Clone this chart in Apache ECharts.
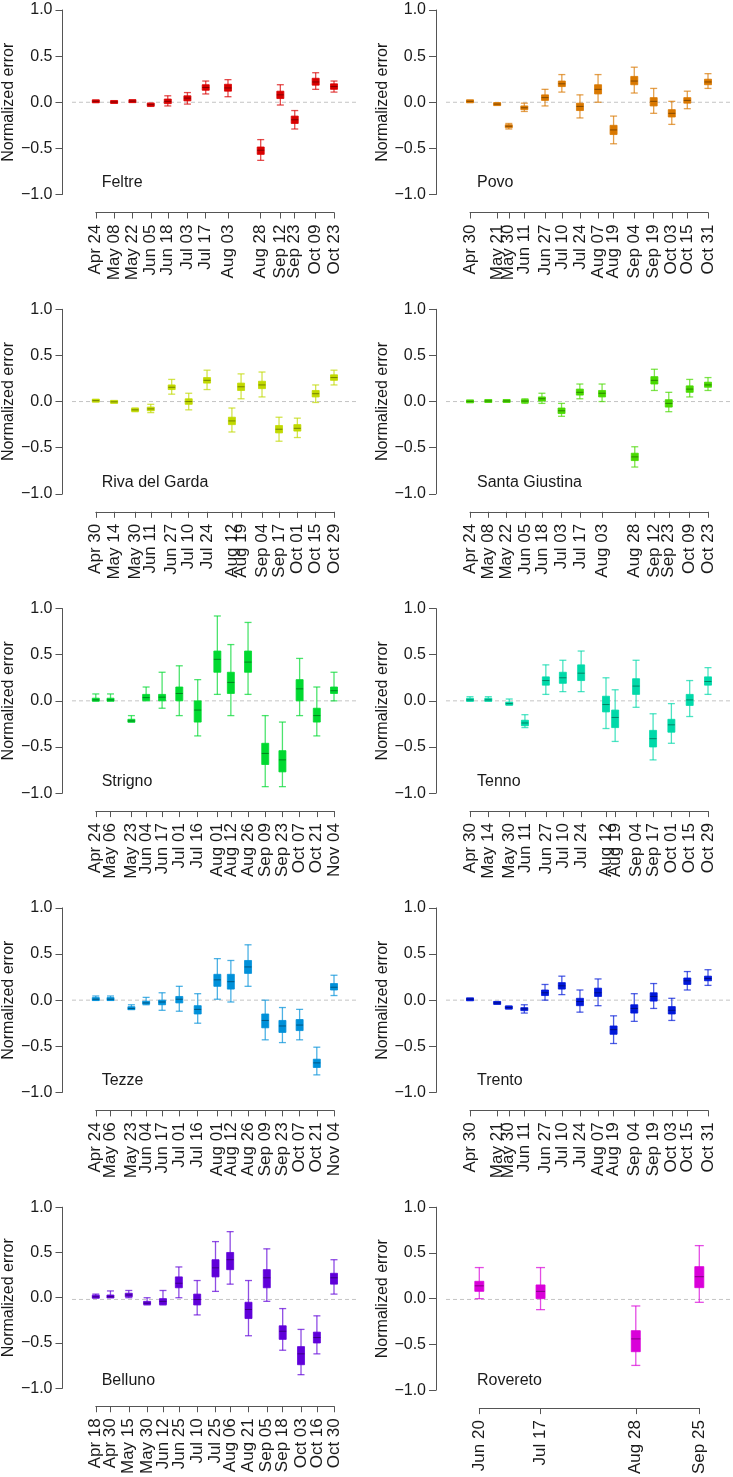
<!DOCTYPE html>
<html><head><meta charset="utf-8">
<script src="https://cdn.jsdelivr.net/npm/echarts@6/dist/echarts.min.js"></script>
<style>html,body{margin:0;padding:0;background:#fff}#c{width:733px;height:1477px}</style>
</head><body><div id="c"></div>
<script>
// ---------------- DATA ----------------
// Each stats entry: [lower whisker, Q1, median, Q3, upper whisker]
const stationNames = ['Feltre','Povo','Riva del Garda','Santa Giustina','Strigno','Tenno','Tezze','Trento','Belluno','Rovereto'];
const yTicks = [-1, -0.5, 0, 0.5, 1];

const feltreDates = ['Apr 24','May 08','May 22','Jun 05','Jun 18','Jul 03','Jul 17','Aug 03','Aug 28','Sep 12','Sep 23','Oct 09','Oct 23'];
const feltreStats = [
  [0.0,0.005,0.01,0.015,0.02],[-0.005,0,0.003,0.006,0.01],[0.0,0.007,0.012,0.017,0.022],
  [-0.045,-0.035,-0.027,-0.018,-0.01],[-0.04,-0.015,0.01,0.035,0.07],[-0.02,0.015,0.045,0.07,0.105],
  [0.09,0.13,0.16,0.19,0.23],[0.06,0.12,0.155,0.195,0.245],[-0.63,-0.565,-0.52,-0.485,-0.405],
  [-0.03,0.04,0.08,0.12,0.19],[-0.29,-0.23,-0.19,-0.15,-0.09],[0.14,0.185,0.22,0.26,0.32],[0.11,0.14,0.17,0.2,0.23]
];

const povoDates = ['Apr 30','May 21','May 30','Jun 11','Jun 27','Jul 10','Jul 24','Aug 07','Aug 19','Sep 04','Sep 19','Oct 03','Oct 15','Oct 31'];
const povoStats = [
  [0.0,0.005,0.01,0.015,0.02],[-0.03,-0.025,-0.02,-0.015,-0.01],[-0.29,-0.275,-0.26,-0.245,-0.23],
  [-0.1,-0.08,-0.06,-0.04,-0.01],[-0.04,0.02,0.05,0.08,0.14],[0.11,0.17,0.2,0.23,0.3],
  [-0.17,-0.09,-0.045,-0.01,0.08],[0.0,0.09,0.14,0.19,0.3],[-0.45,-0.35,-0.3,-0.25,-0.15],
  [0.1,0.19,0.23,0.28,0.38],[-0.12,-0.04,0.01,0.05,0.15],[-0.24,-0.16,-0.12,-0.08,0.01],
  [-0.07,-0.01,0.02,0.05,0.12],[0.15,0.19,0.22,0.25,0.31]
];

const rivaDates = ['Apr 30','May 14','May 30','Jun 11','Jun 27','Jul 10','Jul 24','Aug 12','Aug 19','Sep 04','Sep 17','Oct 01','Oct 15','Oct 29'];
const rivaStats = [
  [0.0,0.005,0.01,0.015,0.02],[-0.01,-0.007,-0.003,0.0,0.003],[-0.11,-0.1,-0.09,-0.08,-0.07],
  [-0.12,-0.1,-0.08,-0.06,-0.03],[0.08,0.13,0.155,0.18,0.24],[-0.09,-0.03,0.0,0.03,0.09],
  [0.13,0.2,0.23,0.26,0.34],[-0.33,-0.25,-0.21,-0.17,-0.07],[0.03,0.12,0.16,0.2,0.3],
  [0.05,0.14,0.18,0.22,0.32],[-0.43,-0.34,-0.3,-0.26,-0.17],[-0.39,-0.32,-0.29,-0.25,-0.18],
  [-0.01,0.05,0.085,0.12,0.18],[0.18,0.23,0.26,0.29,0.34]
];

const giustinaDates = ['Apr 24','May 08','May 22','Jun 05','Jun 18','Jul 03','Jul 17','Aug 03','Aug 28','Sep 12','Sep 23','Oct 09','Oct 23'];
const giustinaStats = [
  [-0.003,0,0.002,0.004,0.006],[0,0.003,0.006,0.009,0.012],[0,0.003,0.006,0.009,0.012],
  [-0.02,-0.01,0.005,0.02,0.03],[-0.02,0.005,0.03,0.05,0.09],[-0.16,-0.13,-0.1,-0.07,-0.02],
  [0.03,0.07,0.1,0.135,0.19],[0.0,0.05,0.09,0.12,0.19],[-0.71,-0.64,-0.6,-0.56,-0.49],
  [0.12,0.19,0.23,0.27,0.35],[-0.11,-0.06,-0.02,0.02,0.1],[0.05,0.1,0.135,0.17,0.24],[0.12,0.155,0.18,0.21,0.26]
];

const strignoDates = ['Apr 24','May 06','May 23','Jun 04','Jun 17','Jul 01','Jul 16','Aug 01','Aug 12','Aug 26','Sep 09','Sep 23','Oct 07','Oct 21','Nov 04'];
const strignoStats = [
  [0.0,0.005,0.01,0.02,0.075],[0.0,0.005,0.01,0.02,0.075],[-0.225,-0.222,-0.218,-0.21,-0.16],
  [0.0,0.005,0.035,0.07,0.15],[-0.08,0.0,0.04,0.07,0.31],[-0.16,0.0,0.08,0.15,0.38],
  [-0.38,-0.23,-0.1,0.0,0.23],[0.07,0.31,0.45,0.54,0.92],[-0.16,0.08,0.2,0.31,0.61],
  [0.07,0.31,0.42,0.54,0.85],[-0.93,-0.69,-0.57,-0.46,-0.16],[-0.93,-0.77,-0.64,-0.54,-0.23],
  [-0.16,0.0,0.13,0.23,0.46],[-0.38,-0.23,-0.16,-0.08,0.15],[0.0,0.08,0.11,0.15,0.31]
];

const tennoDates = ['Apr 30','May 14','May 30','Jun 11','Jun 27','Jul 10','Jul 24','Aug 12','Aug 19','Sep 04','Sep 17','Oct 01','Oct 15','Oct 29'];
const tennoStats = [
  [0.0,0.003,0.01,0.02,0.045],[0.0,0.003,0.01,0.02,0.045],[-0.045,-0.04,-0.03,-0.02,0.02],
  [-0.29,-0.27,-0.24,-0.21,-0.15],[0.07,0.17,0.22,0.26,0.39],[0.1,0.19,0.25,0.31,0.44],
  [0.1,0.22,0.3,0.39,0.54],[-0.3,-0.12,-0.04,0.05,0.25],[-0.44,-0.29,-0.18,-0.1,0.12],
  [-0.07,0.07,0.16,0.24,0.44],[-0.64,-0.5,-0.41,-0.32,-0.14],[-0.46,-0.34,-0.26,-0.2,-0.03],
  [-0.17,-0.05,0.01,0.07,0.22],[0.07,0.17,0.21,0.26,0.36]
];

const tezzeDates = ['Apr 24','May 06','May 23','Jun 04','Jun 17','Jul 01','Jul 16','Aug 01','Aug 12','Aug 26','Sep 09','Sep 23','Oct 07','Oct 21','Nov 04'];
const tezzeStats = [
  [0.0,0.003,0.01,0.02,0.045],[0.0,0.003,0.01,0.02,0.045],[-0.1,-0.095,-0.09,-0.08,-0.05],
  [-0.05,-0.04,-0.03,-0.015,0.03],[-0.11,-0.05,-0.02,0.0,0.08],[-0.12,-0.03,0.01,0.04,0.15],
  [-0.25,-0.15,-0.1,-0.06,0.07],[0.01,0.15,0.22,0.28,0.45],[-0.02,0.12,0.2,0.28,0.43],
  [0.15,0.29,0.36,0.43,0.6],[-0.43,-0.3,-0.22,-0.15,0.0],[-0.46,-0.35,-0.28,-0.22,-0.08],
  [-0.43,-0.33,-0.27,-0.21,-0.1],[-0.81,-0.73,-0.68,-0.64,-0.51],[0.05,0.11,0.14,0.18,0.27]
];

const trentoDates = ['Apr 30','May 21','May 30','Jun 11','Jun 27','Jul 10','Jul 24','Aug 07','Aug 19','Sep 04','Sep 19','Oct 03','Oct 15','Oct 31'];
const trentoStats = [
  [0.0,0.005,0.01,0.013,0.016],[-0.04,-0.035,-0.03,-0.025,-0.02],[-0.095,-0.09,-0.08,-0.07,-0.065],
  [-0.14,-0.11,-0.095,-0.085,-0.05],[0.0,0.05,0.08,0.11,0.17],[0.06,0.12,0.155,0.19,0.26],
  [-0.13,-0.06,-0.015,0.02,0.11],[-0.06,0.04,0.08,0.13,0.23],[-0.47,-0.37,-0.32,-0.28,-0.17],
  [-0.23,-0.14,-0.09,-0.05,0.07],[-0.09,-0.01,0.04,0.08,0.18],[-0.22,-0.15,-0.11,-0.07,0.02],
  [0.11,0.17,0.21,0.24,0.31],[0.16,0.21,0.235,0.26,0.33]
];

const bellunoDates = ['Apr 18','Apr 30','May 15','May 30','Jun 12','Jun 25','Jul 10','Jul 25','Aug 06','Aug 21','Sep 05','Sep 18','Oct 03','Oct 16','Oct 30'];
const bellunoStats = [
  [0.0,0.003,0.01,0.02,0.04],[0.005,0.007,0.012,0.02,0.075],[0.0,0.01,0.03,0.05,0.08],
  [-0.08,-0.075,-0.06,-0.04,0.0],[-0.08,-0.075,-0.04,-0.01,0.08],[0.0,0.11,0.16,0.23,0.34],
  [-0.19,-0.08,-0.02,0.04,0.19],[0.07,0.23,0.33,0.42,0.62],[0.15,0.31,0.42,0.5,0.73],
  [-0.42,-0.23,-0.13,-0.05,0.19],[-0.04,0.11,0.22,0.31,0.54],[-0.58,-0.46,-0.37,-0.31,-0.12],
  [-0.85,-0.74,-0.62,-0.54,-0.35],[-0.62,-0.5,-0.44,-0.38,-0.2],[0.04,0.15,0.22,0.27,0.42]
];

const roveretoDates = ['Jun 20','Jul 17','Aug 28','Sep 25'];
const roveretoStats = [
  [0.0,0.08,0.14,0.19,0.34],[-0.12,0.0,0.08,0.15,0.34],[-0.73,-0.58,-0.44,-0.35,-0.08],[-0.04,0.12,0.24,0.35,0.58]
];

const allDates = [feltreDates,povoDates,rivaDates,giustinaDates,strignoDates,tennoDates,tezzeDates,trentoDates,bellunoDates,roveretoDates];
const allStats = [feltreStats,povoStats,rivaStats,giustinaStats,strignoStats,tennoStats,tezzeStats,trentoStats,bellunoStats,roveretoStats];

// ---------------- STYLE / LAYOUT ----------------
const colors = ['#D90000','#D97800','#C1D900','#48D900','#00D930','#00D9A9','#0090D9','#0018D9','#6000D9','#D900D9'];
const FONT = "'Liberation Sans', Arial, Helvetica, sans-serif";
const AXIS_COLOR = '#555';
const TEXT_COLOR = '#1a1a1a';
const ROW_TOP = 10, ROW_PITCH = 299.3, PLOT_H = 184.5;
const COLS = [
  {axis: 62, x0: 95.3, x1: 334, p0: 72, p1: 356, lab: 101.7},
  {axis: 436, x0: 470, x1: 708, p0: 446, p1: 731, lab: 477}
];

const MONTHS = {Jan:0,Feb:1,Mar:2,Apr:3,May:4,Jun:5,Jul:6,Aug:7,Sep:8,Oct:9,Nov:10,Dec:11};
function dayNum(s){ const parts = s.split(' '); return Date.UTC(2013, MONTHS[parts[0]], +parts[1]) / 86400000; }
function hexA(hex, a){ const n = parseInt(hex.slice(1),16); return 'rgba('+((n>>16)&255)+','+((n>>8)&255)+','+(n&255)+','+a+')'; }
function darken(hex, f){ const n = parseInt(hex.slice(1),16); return 'rgb('+Math.round(((n>>16)&255)*f)+','+Math.round(((n>>8)&255)*f)+','+Math.round((n&255)*f)+')'; }

const grid = [], xAxis = [], yAxis = [], series = [], title = [];

stationNames.forEach((name, i) => {
  const col = COLS[i % 2];
  const row = Math.floor(i / 2);
  const top = ROW_TOP + row * ROW_PITCH;
  let x0 = col.x0, x1 = col.x1, boxW = 7;
  if (name === 'Rovereto') { x0 = 479.3; x1 = 699.3; boxW = 9; }
  const labels = allDates[i];
  const days = labels.map(dayNum);
  const stats = allStats[i];
  const color = colors[i];
  const fmt = v => { const k = days.indexOf(v); return k >= 0 ? labels[k] : ''; };

  // Plot region grid: zero reference line
  const gA = grid.length;
  grid.push({left: col.p0, top: top, width: col.p1 - col.p0, height: PLOT_H});
  const xA = xAxis.length, yA = yAxis.length;
  xAxis.push({gridIndex: gA, type: 'value', min: 0, max: 1, show: false});
  yAxis.push({gridIndex: gA, type: 'value', min: -1, max: 1, show: false});
  series.push({type: 'line', xAxisIndex: xA, yAxisIndex: yA, data: [[0, 0], [1, 0]], symbol: 'none', silent: true,
    lineStyle: {color: '#c4c4c4', width: 1, type: [4, 3]}, z: 1});

  // Data grid
  const gB = grid.length;
  grid.push({left: x0, top: top, width: x1 - x0, height: PLOT_H});
  const evenDays = days.filter((d, k) => k % 2 === 0);
  const oddDays = days.filter((d, k) => k % 2 === 1);
  const labelStyle = {rotate: 90, margin: 12, fontFamily: FONT, fontSize: 17, color: TEXT_COLOR,
    hideOverlap: false, showMinLabel: true, showMaxLabel: true, formatter: fmt};
  const xB = xAxis.length;
  xAxis.push({
    gridIndex: gB, type: 'value', min: days[0], max: days[days.length - 1], position: 'bottom', offset: 18,
    splitLine: {show: false},
    axisLine: {show: true, onZero: false, lineStyle: {color: AXIS_COLOR, width: 1}},
    axisTick: {show: true, customValues: days, length: 6, lineStyle: {color: AXIS_COLOR, width: 1}},
    axisLabel: Object.assign({customValues: evenDays}, labelStyle)
  });
  // companion axis carrying the alternate tick labels (same scale, same position)
  xAxis.push({
    gridIndex: gB, type: 'value', min: days[0], max: days[days.length - 1], position: 'bottom', offset: 18,
    splitLine: {show: false}, axisLine: {show: false}, axisTick: {show: false},
    axisLabel: Object.assign({customValues: oddDays}, labelStyle)
  });
  const yB = yAxis.length;
  yAxis.push({
    gridIndex: gB, type: 'value', min: -1, max: 1, interval: 0.5, position: 'left', offset: x0 - col.axis,
    splitLine: {show: false},
    axisLine: {show: true, onZero: false, lineStyle: {color: AXIS_COLOR, width: 1}},
    axisTick: {show: true, length: 7, lineStyle: {color: AXIS_COLOR, width: 1}},
    axisLabel: {margin: 10, fontFamily: FONT, fontSize: 16, color: TEXT_COLOR, showMinLabel: true, showMaxLabel: true,
      formatter: v => (v < 0 ? '\u2212' : '') + Math.abs(v).toFixed(1)},
    name: 'Normalized error', nameLocation: 'middle', nameGap: 42,
    nameTextStyle: {fontFamily: FONT, fontSize: 16, color: TEXT_COLOR}
  });

  const whisk = hexA(color, 0.7);
  const medC = darken(color, 0.6);
  series.push({
    type: 'custom', xAxisIndex: xB, yAxisIndex: yB, clip: false, silent: true, z: 3,
    data: days.map((d, k) => [d].concat(stats[k])),
    encode: {x: 0, y: [1, 2, 3, 4, 5]},
    renderItem: (params, api) => {
      const xv = api.value(0);
      const x = api.coord([xv, 0])[0];
      const y = [1, 2, 3, 4, 5].map(j => api.coord([xv, api.value(j)])[1]);
      const hw = boxW / 2;
      let bTop = y[3], bH = y[1] - y[3];
      if (bH < 3) { const c = (y[1] + y[3]) / 2; bTop = c - 1.5; bH = 3; }
      return {type: 'group', children: [
        {type: 'line', shape: {x1: x, y1: y[0], x2: x, y2: y[4]}, style: {stroke: whisk, lineWidth: 1.3}},
        {type: 'line', shape: {x1: x - hw, y1: y[0], x2: x + hw, y2: y[0]}, style: {stroke: whisk, lineWidth: 1.3}},
        {type: 'line', shape: {x1: x - hw, y1: y[4], x2: x + hw, y2: y[4]}, style: {stroke: whisk, lineWidth: 1.3}},
        {type: 'rect', shape: {x: x - hw, y: bTop, width: boxW, height: bH}, style: {fill: color, stroke: hexA(color, 0.8), lineWidth: 1}},
        {type: 'line', shape: {x1: x - hw, y1: y[2], x2: x + hw, y2: y[2]}, style: {stroke: medC, lineWidth: 1}}
      ]};
    }
  });

  title.push({text: name, left: col.lab, top: top + 174 - 9, padding: 0,
    textStyle: {fontFamily: FONT, fontSize: 16, fontWeight: 'normal', color: TEXT_COLOR}});
});

const chart = echarts.init(document.getElementById('c'), null, {renderer: 'canvas'});
chart.setOption({animation: false, backgroundColor: '#ffffff', title, grid, xAxis, yAxis, series});
</script>
</body></html>
